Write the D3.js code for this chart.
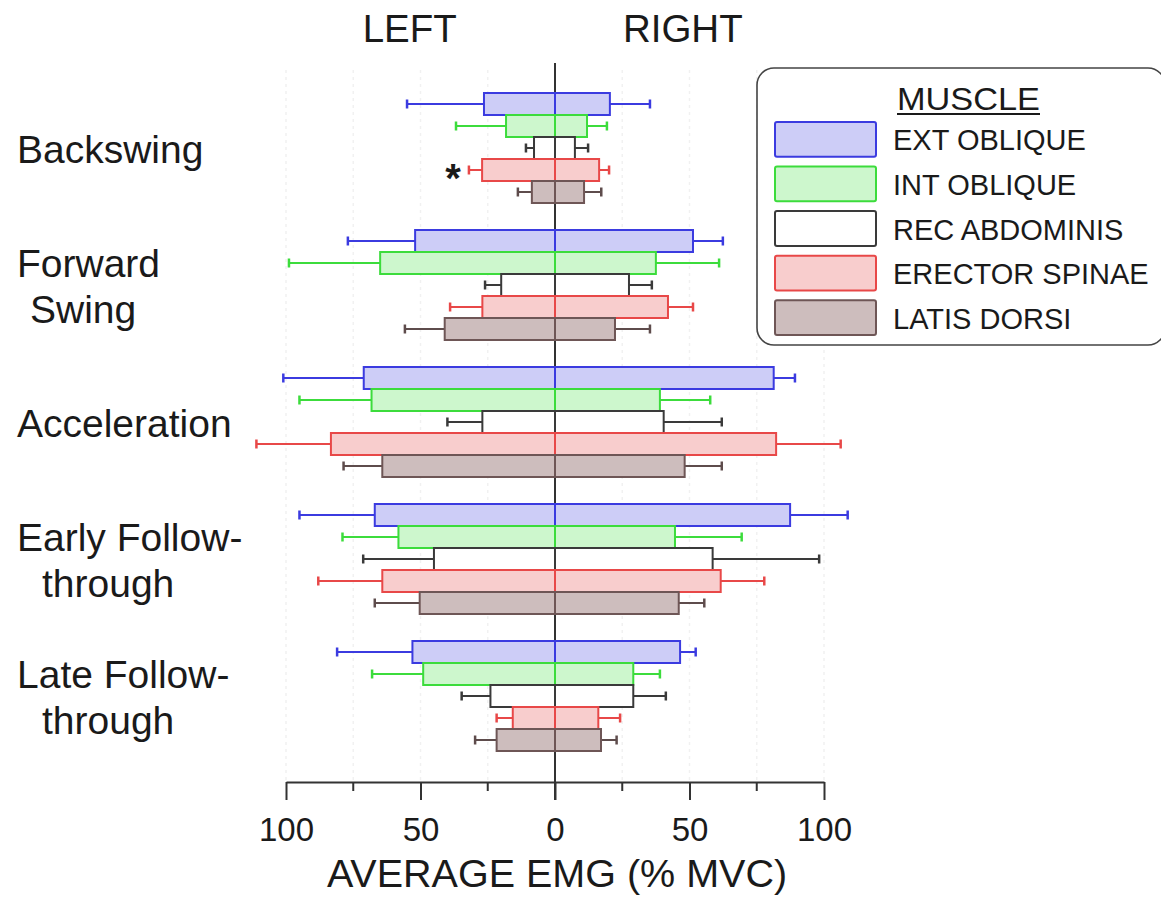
<!DOCTYPE html>
<html>
<head>
<meta charset="utf-8">
<script src="https://cdn.jsdelivr.net/npm/d3@7"></script>
<style>
  html, body { margin: 0; padding: 0; background: #ffffff; }
  svg { display: block; }
  text { font-family: "Liberation Sans", Arial, Helvetica, sans-serif; fill: #1a1a1a; }
</style>
</head>
<body>
<svg id="chart" width="1161" height="898"></svg>
<script>
// ---- data ----
const phases = ["Backswing", "Forward Swing", "Acceleration", "Early Follow-through", "Late Follow-through"];
const phaseLines = [["Backswing"], ["Forward", "Swing"], ["Acceleration"], ["Early Follow-", "through"], ["Late Follow-", "through"]];
const muscles = ["EXT OBLIQUE", "INT OBLIQUE", "REC ABDOMINIS", "ERECTOR SPINAE", "LATIS DORSI"];
const fills = ["#cdcdf7", "#cdf7cd", "#ffffff", "#f8cdcd", "#cdbdbd"];
const strokes = ["#3b3be0", "#3cdc3c", "#3a3a3a", "#e84848", "#6e5656"];
const whiskerColors = ["#3b3be0", "#3cdc3c", "#3a3a3a", "#e84848", "#5e4c4c"];

// mean values (% MVC), rows = phases, columns = muscles
const leftMean = [
  [26.4, 18.2, 7.8, 27.1, 8.6],
  [52.0, 65.0, 20.0, 27.0, 41.0],
  [71.1, 68.2, 27.0, 83.3, 64.2],
  [67.0, 58.2, 45.0, 64.2, 50.3],
  [53.0, 49.0, 24.0, 15.7, 21.7]
];
const leftSD = [
  [28.6, 18.6, 3.0, 4.9, 5.2],
  [25.0, 33.9, 6.0, 12.0, 14.8],
  [29.9, 26.8, 13.0, 27.7, 14.4],
  [28.0, 20.8, 26.3, 23.8, 16.7],
  [28.0, 19.0, 10.7, 6.0, 8.0]
];
const rightMean = [
  [20.4, 11.9, 7.4, 16.4, 10.8],
  [51.3, 37.5, 27.5, 42.0, 22.3],
  [81.3, 39.0, 40.4, 82.2, 48.2],
  [87.4, 44.6, 58.6, 61.6, 46.0],
  [46.5, 29.1, 29.1, 16.1, 17.1]
];
const rightSD = [
  [14.9, 7.4, 4.9, 3.7, 6.4],
  [11.1, 23.5, 8.5, 9.3, 13.0],
  [7.9, 18.7, 21.6, 24.0, 13.8],
  [21.4, 24.8, 39.6, 16.2, 9.5],
  [5.8, 9.9, 12.1, 8.1, 5.8]
];
const majorTicks = [-100, -50, 0, 50, 100];
const minorTicks = [-75, -25, 25, 75];
const sideLabels = ["LEFT", "RIGHT"];
const xTitle = "AVERAGE EMG (% MVC)";
const legendTitle = "MUSCLE";
const significance = [{ phase: 0, muscle: 3, side: "left", mark: "*" }];

// ---- layout (not data) ----
const lineIndent = [[0], [0, 13], [0], [0, 25], [0, 25]];

// ---- scales ----
const svg = d3.select("#chart");
const x = d3.scaleLinear().domain([-100, 100]).range([286, 824]);
const y = d3.scaleBand().domain(phases).range([93, 751]).paddingInner(27 / 137).paddingOuter(0);
const yIn = d3.scaleBand().domain(muscles).range([0, y.bandwidth()]).padding(0);

// faint vertical grid
svg.append("g").selectAll("line")
  .data(minorTicks.concat([-100, -50, 50, 100]))
  .join("line")
  .attr("x1", d => x(d)).attr("x2", d => x(d))
  .attr("y1", 70).attr("y2", 780)
  .attr("stroke", "#f1f1f1").attr("stroke-width", 1.5)
  .attr("stroke-dasharray", "3,4");

// center line
svg.append("line")
  .attr("x1", x(0)).attr("x2", x(0))
  .attr("y1", 63).attr("y2", 800)
  .attr("stroke", "#333").attr("stroke-width", 2);

// bars
const rows = [];
phases.forEach((p, i) => muscles.forEach((m, j) => {
  rows.push({ p, m, j, side: -1, mean: leftMean[i][j], sd: leftSD[i][j] });
  rows.push({ p, m, j, side: 1, mean: rightMean[i][j], sd: rightSD[i][j] });
}));

const gBars = svg.append("g");
const capH = 9;
// whiskers
gBars.selectAll("g.w").data(rows).join("g").attr("class", "w").each(function(d) {
  const g = d3.select(this);
  const cy = y(d.p) + yIn(d.m) + yIn.bandwidth() / 2;
  const x1 = x(d.side * d.mean), x2 = x(d.side * (d.mean + d.sd));
  g.append("line").attr("x1", x1).attr("x2", x2).attr("y1", cy).attr("y2", cy)
    .attr("stroke", whiskerColors[d.j]).attr("stroke-width", 2);
  g.append("line").attr("x1", x2).attr("x2", x2).attr("y1", cy - capH / 2).attr("y2", cy + capH / 2)
    .attr("stroke", whiskerColors[d.j]).attr("stroke-width", 2.5);
});
// boxes
gBars.selectAll("rect.bar").data(rows).join("rect").attr("class", "bar")
  .attr("x", d => Math.min(x(0), x(d.side * d.mean)))
  .attr("width", d => Math.abs(x(d.side * d.mean) - x(0)))
  .attr("y", d => y(d.p) + yIn(d.m))
  .attr("height", yIn.bandwidth())
  .attr("fill", d => fills[d.j])
  .attr("stroke", d => strokes[d.j])
  .attr("stroke-width", 2);

// significance marker
significance.forEach(s => {
  const p = phases[s.phase], m = muscles[s.muscle];
  const val = s.side === "left" ? -(leftMean[s.phase][s.muscle] + leftSD[s.phase][s.muscle]) : (rightMean[s.phase][s.muscle] + rightSD[s.phase][s.muscle]);
  svg.append("text")
    .attr("x", x(val) - 16)
    .attr("y", y(p) + yIn(m) + yIn.bandwidth() / 2 + 22)
    .attr("text-anchor", "middle")
    .attr("font-size", 40).attr("font-weight", "bold")
    .text(s.mark);
});

// x axis
const axisY = 782;
const axis = d3.axisBottom(x).tickValues(majorTicks).tickFormat(d => Math.abs(d))
  .tickSize(18).tickSizeOuter(0).tickPadding(18);
const gAxis = svg.append("g").attr("transform", `translate(0,${axisY})`).call(axis);
gAxis.select(".domain").attr("stroke", "#333").attr("stroke-width", 2);
gAxis.selectAll(".tick line").attr("stroke", "#333").attr("stroke-width", 2);
gAxis.selectAll(".tick text").attr("font-size", 33).attr("fill", "#1a1a1a")
  .attr("font-family", "'Liberation Sans', Arial, sans-serif");
svg.append("g").attr("transform", `translate(0,${axisY})`).selectAll("line")
  .data(minorTicks).join("line")
  .attr("x1", d => x(d)).attr("x2", d => x(d)).attr("y1", 0).attr("y2", 9)
  .attr("stroke", "#333").attr("stroke-width", 2);

svg.append("text").attr("x", 557).attr("y", 887).attr("text-anchor", "middle")
  .attr("font-size", 39.5).text(xTitle);

// side labels
svg.append("text").attr("x", x(-54)).attr("y", 42).attr("text-anchor", "middle")
  .attr("font-size", 38.5).text(sideLabels[0]);
svg.append("text").attr("x", x(47.5)).attr("y", 42).attr("text-anchor", "middle")
  .attr("font-size", 38.5).text(sideLabels[1]);

// phase labels
phases.forEach((p, i) => {
  const c = y(p) + y.bandwidth() / 2;
  const lines = phaseLines[i];
  const base = lines.length === 1 ? [c + 15] : [c - 8, c + 38];
  const t = svg.append("text").attr("font-size", 39);
  lines.forEach((ln, k) => {
    t.append("tspan").attr("x", 17 + lineIndent[i][k]).attr("y", base[k]).text(ln);
  });
});

// legend
const lg = svg.append("g");
lg.append("rect").attr("x", 757).attr("y", 68).attr("width", 408).attr("height", 277)
  .attr("rx", 17).attr("ry", 17).attr("fill", "#fff").attr("stroke", "#444").attr("stroke-width", 1.6);
lg.append("text").attr("x", 897).attr("y", 110).attr("font-size", 32)
  .attr("textLength", 143).attr("lengthAdjust", "spacingAndGlyphs").text(legendTitle);
lg.append("line").attr("x1", 897).attr("x2", 1040).attr("y1", 114).attr("y2", 114)
  .attr("stroke", "#1a1a1a").attr("stroke-width", 2);
const ly = d3.scaleBand().domain(muscles).range([120, 333]).paddingInner(0.22);
muscles.forEach((m, j) => {
  lg.append("rect").attr("x", 775).attr("y", ly(m) + 2).attr("width", 101).attr("height", ly.bandwidth())
    .attr("fill", fills[j]).attr("stroke", strokes[j]).attr("stroke-width", 2).attr("rx", 2);
  lg.append("text").attr("x", 893).attr("y", ly(m) + 2 + ly.bandwidth() / 2 + 11)
    .attr("font-size", 29).text(m);
});
</script>
</body>
</html>
